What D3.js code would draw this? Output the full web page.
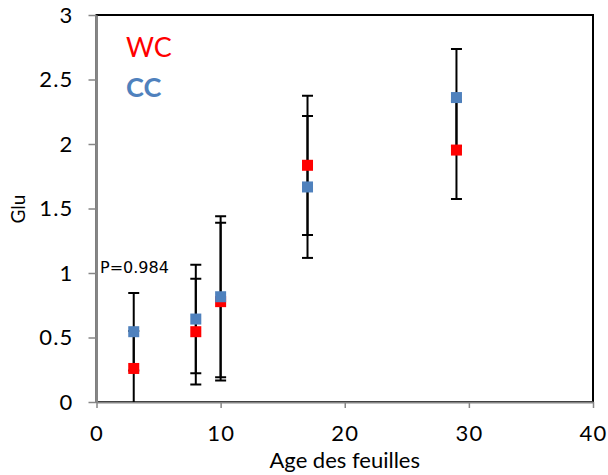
<!DOCTYPE html>
<html>
<head>
<meta charset="utf-8">
<script src="https://cdn.jsdelivr.net/npm/d3@7"></script>
<style>
  body { margin: 0; background: #fff; }
  svg text { font-family: Lato, "Liberation Sans", sans-serif; }
</style>
</head>
<body>
<div id="chart"></div>
<script>
// leaf age (x) and Glu means / error bars for the two series
var ages = [3, 8, 10, 17, 29];
var wcMean = [0.26, 0.545, 0.778, 1.835, 1.953];
var wcErr = [0.29, 0.41, 0.612, 0.54, 0.38];
var ccMean = [0.545, 0.643, 0.816, 1.667, 2.36];
var ccErr = [0.30, 0.42, 0.624, 0.55, 0.376];
var xTicks = [0, 10, 20, 30, 40];
var yTicks = [0, 0.5, 1, 1.5, 2, 2.5, 3];

var width = 608, height = 475;
var plotLeft = 96.5, plotRight = 593, plotTop = 15, plotBottom = 402;

var svg = d3.select("#chart").append("svg")
    .attr("width", width)
    .attr("height", height);

var x = d3.scaleLinear().domain([0, 40]).range([plotLeft, plotRight]);
var y = d3.scaleLinear().domain([0, 3]).range([plotBottom, plotTop]);

svg.append("defs").append("clipPath")
    .attr("id", "clip")
    .append("rect")
    .attr("x", plotLeft)
    .attr("y", plotTop)
    .attr("width", plotRight - plotLeft)
    .attr("height", plotBottom - plotTop);

// plot area frame (black), axes drawn over it in gray
svg.append("rect")
    .attr("x", plotLeft)
    .attr("y", plotTop)
    .attr("width", plotRight - plotLeft)
    .attr("height", plotBottom - plotTop)
    .attr("fill", "none")
    .attr("stroke", "#000")
    .attr("stroke-width", 2);

var xAxis = svg.append("g")
    .attr("transform", "translate(0," + plotBottom + ")")
    .call(d3.axisBottom(x).tickValues(xTicks).tickSizeInner(6).tickSizeOuter(0).tickPadding(17));

var yAxis = svg.append("g")
    .attr("transform", "translate(" + plotLeft + ",0)")
    .call(d3.axisLeft(y).tickValues(yTicks).tickSizeInner(8).tickSizeOuter(0).tickPadding(15)
        .tickFormat(function(d) { return String(d); }));

[xAxis, yAxis].forEach(function(a) {
    a.select(".domain").attr("stroke", "#868686").attr("stroke-width", 2);
    a.selectAll(".tick line").attr("stroke", "#868686").attr("stroke-width", 1.5);
    a.selectAll(".tick text")
        .attr("fill", "#000")
        .style("font-family", "Lato, 'Liberation Sans', sans-serif")
        .style("font-size", "22px")
        .style("letter-spacing", "1.2px");
});
xAxis.selectAll(".tick text").attr("dy", "0.71em");

// axis titles
svg.append("text")
    .attr("x", (plotLeft + plotRight) / 2)
    .attr("y", 468)
    .attr("text-anchor", "middle")
    .style("font-size", "22px")
    .text("Age des feuilles");

svg.append("text")
    .attr("transform", "translate(25,209) rotate(-90)")
    .attr("text-anchor", "middle")
    .style("font-size", "19px")
    .text("Glu");

// series
var series = [
    {name: "WC", color: "#ff0000", mean: wcMean, err: wcErr},
    {name: "CC", color: "#4f81bd", mean: ccMean, err: ccErr}
];

var bars = svg.append("g").attr("clip-path", "url(#clip)");
series.forEach(function(s) {
    var pts = ages.map(function(a, i) { return {x: a, m: s.mean[i], e: s.err[i]}; });
    var g = bars.append("g");
    g.selectAll(".stem")
        .data(pts)
        .enter().append("line")
        .attr("x1", function(d) { return x(d.x); })
        .attr("x2", function(d) { return x(d.x); })
        .attr("y1", function(d) { return y(d.m - d.e); })
        .attr("y2", function(d) { return y(d.m + d.e); })
        .attr("stroke", "#000")
        .attr("stroke-width", 2);
    [-1, 1].forEach(function(sign) {
        g.selectAll(".cap" + sign)
            .data(pts)
            .enter().append("line")
            .attr("x1", function(d) { return x(d.x) - 5.5; })
            .attr("x2", function(d) { return x(d.x) + 5.5; })
            .attr("y1", function(d) { return y(d.m + sign * d.e); })
            .attr("y2", function(d) { return y(d.m + sign * d.e); })
            .attr("stroke", "#000")
            .attr("stroke-width", 2);
    });
});

series.forEach(function(s) {
    svg.append("g").selectAll("rect")
        .data(ages.map(function(a, i) { return {x: a, m: s.mean[i]}; }))
        .enter().append("rect")
        .attr("x", function(d) { return x(d.x) - 5.5; })
        .attr("y", function(d) { return y(d.m) - 5.5; })
        .attr("width", 11)
        .attr("height", 11)
        .attr("fill", s.color);
});

// legend-like labels and annotation
svg.append("text")
    .attr("x", 126)
    .attr("y", 57)
    .attr("fill", "#ff0000")
    .style("font-size", "27px")
    .text("WC");

svg.append("text")
    .attr("x", 126)
    .attr("y", 97)
    .attr("fill", "#4f81bd")
    .style("font-size", "27px")
    .style("font-weight", "bold")
    .text("CC");

svg.append("text")
    .attr("x", 100)
    .attr("y", 273)
    .style("font-family", "'DejaVu Sans', sans-serif")
    .style("font-size", "16px")
    .text("P=0.984");
</script>
</body>
</html>
